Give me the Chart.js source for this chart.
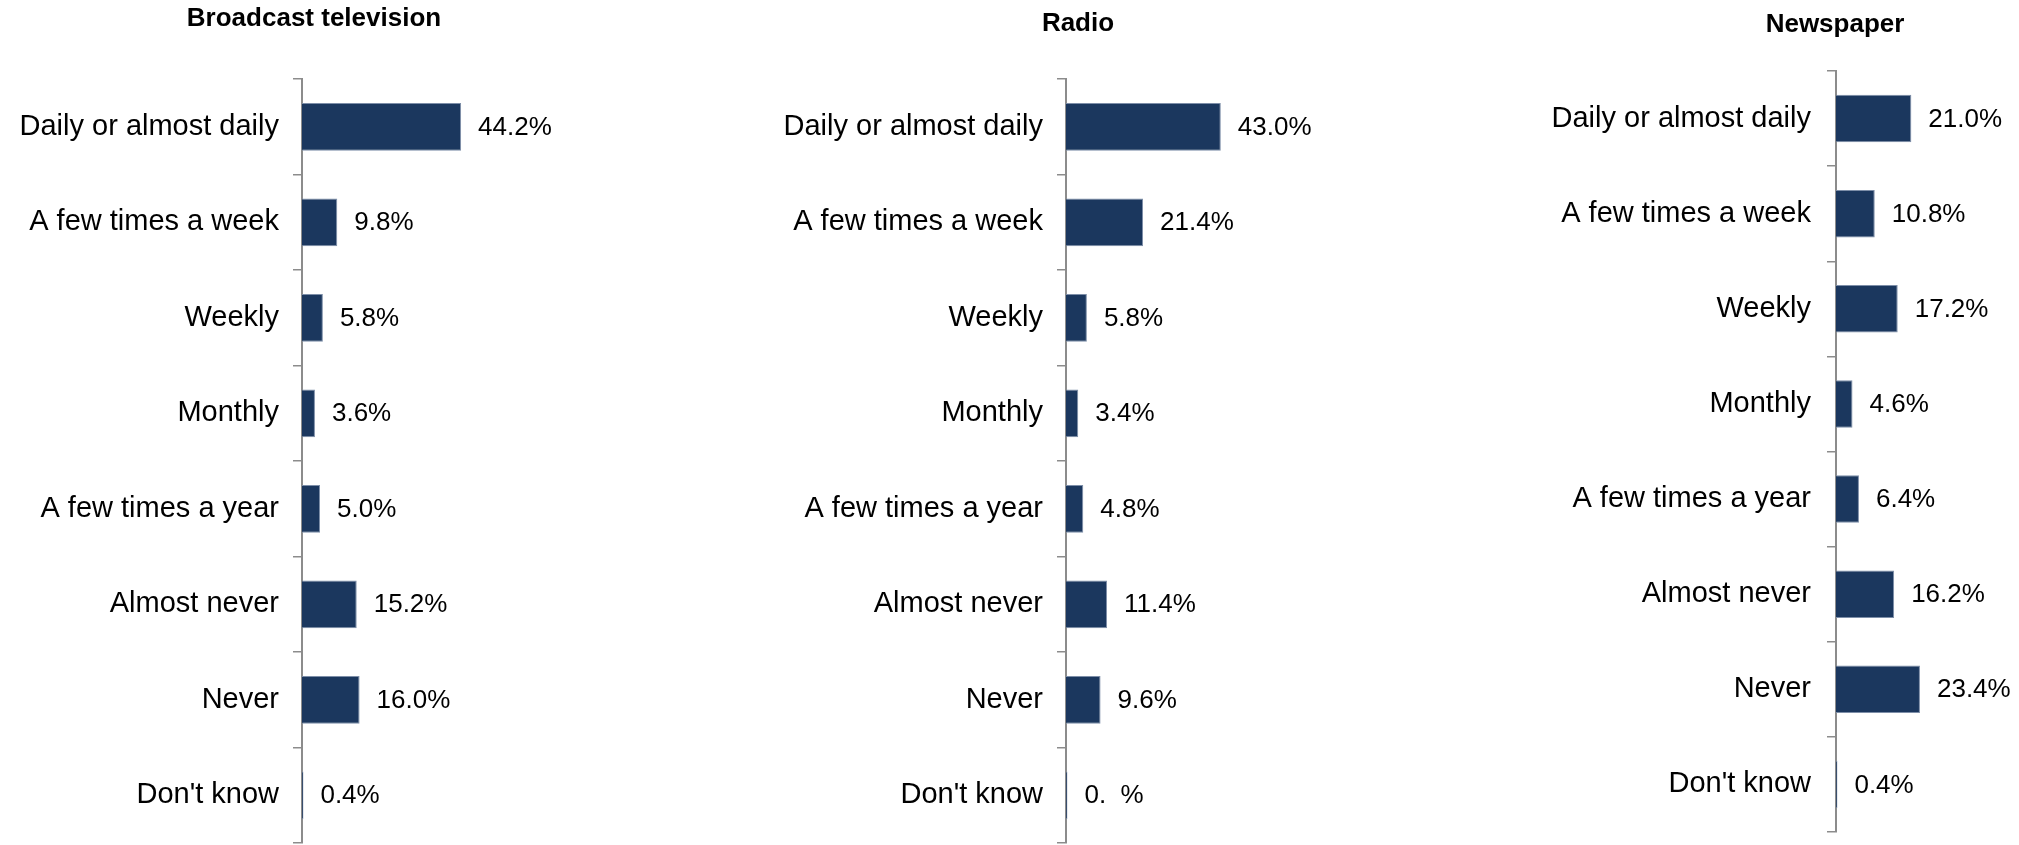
<!DOCTYPE html>
<html>
<head>
<meta charset="utf-8">
<script src="https://cdn.jsdelivr.net/npm/chart.js@4/dist/chart.umd.min.js"></script>
<style>
  html, body { margin: 0; padding: 0; background: #fff; }
  body { width: 2019px; height: 845px; position: relative; overflow: hidden; }
  canvas { position: absolute; top: 0; }
</style>
</head>
<body>
<canvas id="tv" width="590" height="880" style="left:0px"></canvas>
<canvas id="radio" width="654" height="880" style="left:700px"></canvas>
<canvas id="paper" width="519" height="880" style="left:1500px"></canvas>
<script>
// data
const categories = ['Daily or almost daily', 'A few times a week', 'Weekly', 'Monthly',
  'A few times a year', 'Almost never', 'Never', "Don't know"];
const tvValues = [44.2, 9.8, 5.8, 3.6, 5.0, 15.2, 16.0, 0.4];
const radioValues = [43.0, 21.4, 5.8, 3.4, 4.8, 11.4, 9.6, 0.4];
const paperValues = [21.0, 10.8, 17.2, 4.6, 6.4, 16.2, 23.4, 0.4];

const fmt = v => v.toFixed(1) + '%';
const tvText = tvValues.map(fmt);
const radioText = radioValues.map(fmt);
radioText[7] = '0.  %'; // digit missing in the source
const paperText = paperValues.map(fmt);

const FONT = "'Liberation Sans', Arial, sans-serif";
const NAVY = '#1b375e';
const GREY = '#8c8c8c';

// value labels at bar ends
const valueLabels = {
  id: 'valueLabels',
  afterDatasetsDraw(chart, args, opts) {
    const ctx = chart.ctx;
    const meta = chart.getDatasetMeta(0);
    ctx.save();
    ctx.font = '26px ' + FONT;
    ctx.fillStyle = '#000';
    ctx.textAlign = 'left';
    ctx.textBaseline = 'middle';
    meta.data.forEach((bar, i) => {
      ctx.fillText(opts.texts[i], bar.x + 17, bar.y + 1);
    });
    ctx.restore();
  }
};

// panel title, centred near the axis
const panelTitle = {
  id: 'panelTitle',
  afterDraw(chart, args, opts) {
    const ctx = chart.ctx;
    ctx.save();
    ctx.font = 'bold 26px ' + FONT;
    ctx.fillStyle = '#000';
    ctx.textAlign = 'center';
    ctx.textBaseline = 'middle';
    ctx.fillText(opts.text, chart.chartArea.left + opts.dx, opts.y);
    ctx.restore();
  }
};

function makeChart(id, title, values, texts, cfg) {
  return new Chart(document.getElementById(id), {
    type: 'bar',
    data: {
      labels: categories,
      datasets: [{
        data: values,
        backgroundColor: NAVY,
        borderColor: '#7d8ea8',
        borderWidth: 1,
        barPercentage: 1,
        categoryPercentage: 0.5
      }]
    },
    options: {
      indexAxis: 'y',
      responsive: false,
      animation: false,
      layout: { padding: { left: 0, right: 0, top: cfg.top, bottom: cfg.bottom } },
      plugins: {
        legend: { display: false },
        tooltip: { enabled: false },
        title: { display: false },
        valueLabels: { texts: texts },
        panelTitle: { text: title, dx: cfg.titleDx, y: cfg.titleY }
      },
      scales: {
        x: { display: false, min: 0, max: cfg.max },
        y: {
          afterFit: (scale) => { scale.width = cfg.axisOffset; },
          grid: {
            drawOnChartArea: false,
            drawTicks: true,
            tickLength: 9,
            color: GREY,
            lineWidth: 1.5,
            offset: true
          },
          border: { color: GREY, width: 2 },
          ticks: {
            padding: cfg.pad,
            color: '#000',
            font: { family: FONT, size: 29 }
          }
        }
      }
    },
    plugins: [valueLabels, panelTitle]
  });
}

// canvases are 880 tall (page clips at 845) so the axis runs to the bottom edge
makeChart('tv', 'Broadcast television', tvValues, tvText,
  { top: 79, bottom: 37, axisOffset: 302, max: 80, pad: 14, titleDx: 12, titleY: 19 });
makeChart('radio', 'Radio', radioValues, radioText,
  { top: 79, bottom: 37, axisOffset: 366, max: 80, pad: 14, titleDx: 12, titleY: 24 });
makeChart('paper', 'Newspaper', paperValues, paperText,
  { top: 71, bottom: 48, axisOffset: 336, max: 51, pad: 16, titleDx: -1, titleY: 25 });
</script>
</body>
</html>
